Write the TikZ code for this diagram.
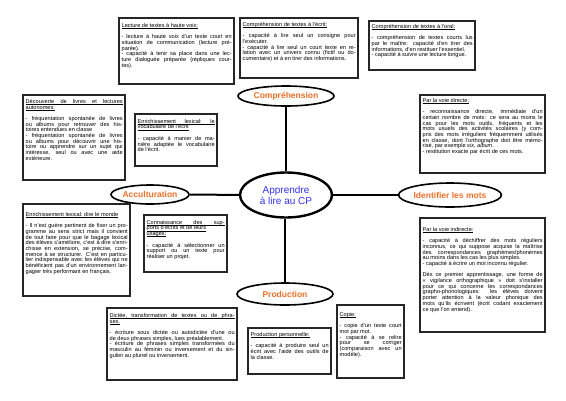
\documentclass[tikz,border=0pt]{standalone}
\usepackage{fontspec}
\setmainfont{Liberation Sans}
\usetikzlibrary{shapes.geometric}
\definecolor{orangeT}{RGB}{236,112,40}
\definecolor{blueT}{RGB}{50,50,240}
\newcommand{\ulword}[1]{\setbox0\hbox{#1}\rlap{\vrule height -0.8pt depth 1.45pt width \wd0}\box0}
\newcommand{\ulspace}{\leaders\hrule height -0.8pt depth 1.45pt\hskip\fontdimen2\font plus \fontdimen3\font minus \fontdimen4\font}
\def\ulB#1 #2\ulstop{\ulword{#1}\ifx\relax#2\relax\else\ulspace\ulB#2\ulstop\fi}
\newcommand{\ul}[1]{\ulB#1 \ulstop}
\begin{document}
\begin{tikzpicture}[x=1pt,y=-1pt,
  boxline/.style={draw=black!85, line width=1.1pt},
  boxtext/.style={anchor=north west, inner sep=0pt, align=justify,
    font=\fontsize{5.6}{5.7}\selectfont,
    execute at begin node={\parindent=0pt\tolerance=10000\hbadness=10000\relax}},
  topic/.style={ellipse, draw, line width=1.6pt, inner sep=0pt, text=orangeT,
    font=\bfseries\fontsize{8.5}{10}\selectfont},
  hub/.style={ellipse, draw, line width=2.4pt, inner sep=0pt, text=blueT, align=center,
    font=\fontsize{10}{11}\selectfont},
  conn/.style={line width=2pt}]
\useasboundingbox[fill=white] (0,0) rectangle (566,400);

% central map
\node[hub, minimum width=92pt, minimum height=45pt] (hub) at (286,195) {Apprendre\\à lire au CP};
\node[topic, minimum width=96pt, minimum height=20pt] (comp) at (286,96) {Compréhension};
\node[topic, minimum width=96pt, minimum height=22pt] (prod) at (285,294) {Production};
\node[topic, minimum width=78pt, minimum height=19pt] (acc) at (150,194.5) {Acculturation};
\node[topic, minimum width=96pt, minimum height=24pt] (ident) at (450,195) {Identifier les mots};
\draw[conn] (comp) -- (comp |- hub.north);
\draw[conn] (prod) -- (prod |- hub.south);
\draw[conn] (acc) -- (hub);
\draw[conn] (ident) -- (hub);

% box 1
\draw[boxline] (119,18) rectangle (234,84);
\node[boxtext, text width=110pt] (b1) at (121.5,23) {\ul{Lecture de textes à haute voix:}\\[5.7pt]
- lecture à haute voix d'un texte court en\linebreak situation de communication (lecture pré-\linebreak parée).\\
- capacité à tenir sa place dans une lec-\linebreak ture dialoguée préparée (répliques cour-\linebreak tes).};

% box 2
\draw[boxline] (240,18) rectangle (358,78);
\node[boxtext, text width=113pt] (b2) at (242.5,22) {\ul{Compréhension de textes à l'écrit:}\\[5.7pt]
- capacité à lire seul un consigne pour\linebreak l'exécuter.\\
- capacité à lire seul un court texte en re-\linebreak lation avec un univers connu (fictif ou do-\linebreak cumentaire) et à en tirer des informations.};

% box 3
\draw[boxline] (369,21) rectangle (475,70);
\node[boxtext, text width=101pt] (b3) at (371.5,24) {\ul{Compréhension de textes à l'oral:}\\[5.7pt]
- compréhension de textes courts lus\linebreak par le maître: capacité d'en tirer des\linebreak informations, d'en restituer l'essentiel.\\
- capacité à suivre une lecture longue.};

% box 4
\draw[boxline] (23,95) rectangle (125,180);
\node[boxtext, text width=97pt] (b4) at (25.5,99) {\ul{Découverte de livres et lectures}\linebreak \ul{autonomes:}\\[5.7pt]
- fréquentation spontanée de livres\linebreak ou albums pour retrouver des his-\linebreak toires entendues en classe\\
- fréquentation spontanée de livres\linebreak ou albums pour découvrir une his-\linebreak toire ou apprendre sur un sujet qui\linebreak intéresse, seul ou avec une aide\linebreak extérieure.};

% box 5
\draw[boxline] (135,114) rectangle (217,166);
\node[boxtext, text width=77pt] (b5) at (137.5,119) {\ul{Enrichissement lexical: le}\linebreak \ul{vocabulaire de l'écrit}\\[5.7pt]
- capacité à manier de ma-\linebreak nière adaptée le vocabulaire\linebreak de l'écrit.};

% box 6
\draw[boxline] (420,95) rectangle (545,173);
\node[boxtext, text width=120pt] (b6) at (422.5,98) {\ul{Par la voie directe:}\\[5.7pt]
- reconnaissance directe, immédiate d'un\linebreak certain nombre de mots: ce sera au moins le\linebreak cas pour les mots outils, fréquents et les\linebreak mots usuels des activités scolaires (y com-\linebreak pris des mots irréguliers fréquemment utilisés\linebreak en classe, dont l'orthographe doit être mémo-\linebreak risé, par exemple \textit{six}, \textit{album}.\\
- restitution exacte par écrit de ces mots.};

% box 7
\draw[boxline] (23,204) rectangle (130,296);
\node[boxtext, text width=102pt] (b7) at (25.5,212) {\ul{Enrichissement lexical: dire le monde}\\[5.7pt]
- Il n'est guère pertinent de fixer un pro-\linebreak gramme au sens strict mais il convient\linebreak de tout faire pour que le bagage lexical\linebreak des élèves s'améliore, c'est à dire s'enri-\linebreak chisse en extension, se précise, com-\linebreak mence à se structurer. C'est en particu-\linebreak lier indispensable avec les élèves qui ne\linebreak bénéficient pas d'un environnement lan-\linebreak gagier très performant en français.};

% box 8
\draw[boxline] (144,215) rectangle (227,272);
\node[boxtext, text width=78pt] (b8) at (146.5,220) {\ul{Connaissance des sup-}\linebreak \ul{ports d'écrits et de leurs}\\ \ul{usages:}\\[5.7pt]
- capacité à sélectionner un\linebreak support ou un texte pour\linebreak réaliser un projet.};

% box 9
\draw[boxline] (420,218) rectangle (545,332);
\node[boxtext, text width=120pt] (b9) at (422.5,227) {\ul{Par la voie indirecte:}\\[5.7pt]
- capacité à déchiffrer des mots réguliers\linebreak inconnus, ce qui suppose acquise la maîtrise\linebreak des correspondances graphèmes/phonèmes\linebreak au moins dans les cas les plus simples.\\
- capacité à écrire un mot inconnu régulier.\\[5.7pt]
Dès ce premier apprentissage, une forme de\linebreak «~vigilance orthographique~» doit s'installer\linebreak pour ce qui concerne les correspondances\linebreak grapho-phonologiques: les élèves doivent\linebreak porter attention à la valeur phonique des\linebreak mots qu'ils écrivent (écrit codant exactement\linebreak ce que l'on entend).};

% box 10
\draw[boxline] (107,308) rectangle (237,380);
\node[boxtext, text width=125pt] (b10) at (109.5,313) {\ul{Dictée, transformation de textes ou de phra-}\linebreak \ul{ses.}\\[5.7pt]
- écriture sous dictée ou autodictée d'une ou\linebreak de deux phrases simples, lues préalablement.\\
- écriture de phrases simples transformées du\linebreak masculin au féminin ou inversement et du sin-\linebreak gulier au pluriel ou inversement.};

% box 11
\draw[boxline] (248,328) rectangle (331,374);
\node[boxtext, text width=78pt] (b11) at (250.5,332) {\ul{Production personnelle:}\\[5.7pt]
- capacité à produire seul un\linebreak écrit avec l'aide des outils de\linebreak la classe.};

% box 12
\draw[boxline] (337,305) rectangle (404,378);
\node[boxtext, text width=62pt] (b12) at (339.5,312) {\ul{Copie:}\\[5.7pt]
- copie d'un texte court\linebreak mot par mot.\\
- capacité à se relire\linebreak pour se corriger\linebreak (comparaison avec un\linebreak modèle).};
\end{tikzpicture}
\end{document}
